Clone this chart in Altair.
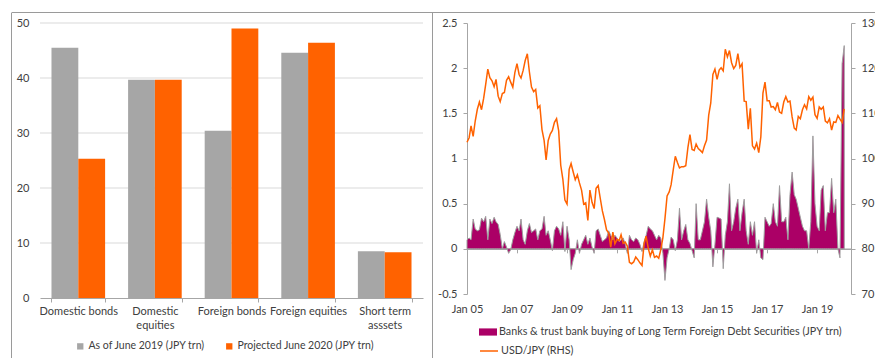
import altair as alt
import pandas as pd

# ---------------- data: left panel ----------------
categories = ["Domestic bonds", "Domestic equities", "Foreign bonds",
              "Foreign equities", "Short term asssets"]
as_of_june_2019 = [45.5, 39.7, 30.4, 44.6, 8.5]
projected_june_2020 = [25.3, 39.7, 49.0, 46.4, 8.3]
bar_series = ["As of June 2019 (JPY trn)", "Projected June 2020 (JPY trn)"]
left_ticks = [0, 10, 20, 30, 40, 50]

# ---------------- data: right panel (monthly, Jan 2005 - Feb 2020) ----------------
first_month = "2005-01-01"
bank_buying = [
    0.10, 0.12, 0.10, 0.33, 0.22, 0.20, 0.21, 0.34, 0.30, 0.36, 0.10, 0.33,
    0.28, 0.35, 0.30, 0.27, 0.16, 0.00, 0.08, 0.02, -0.05, -0.01, 0.10, 0.18,
    0.25, 0.20, 0.33, 0.10, 0.05, 0.20, 0.28, 0.18, 0.20, 0.22, 0.10, 0.20,
    0.22, 0.36, 0.15, 0.20, 0.10, -0.02, 0.20, 0.25, 0.22, 0.15, 0.30, -0.03,
    0.25, 0.10, -0.23, -0.12, -0.05, 0.10, -0.05, 0.05, 0.10, 0.15, 0.05, 0.12,
    0.02, -0.05, 0.20, 0.22, 0.15, 0.08, 0.10, 0.12, 0.20, 0.15, 0.10, 0.15,
    0.12, 0.08, 0.10, 0.12, 0.05, -0.05, 0.15, 0.10, 0.08, 0.12, 0.10, 0.05,
    -0.03, 0.08, 0.15, 0.25, 0.22, 0.20, 0.15, 0.10, 0.15, 0.12, -0.05, -0.35,
    -0.10, 0.00, 0.13, 0.10, -0.02, 0.10, 0.45, 0.10, 0.20, 0.27, 0.10, 0.06,
    -0.02, -0.10, 0.50, 0.10, 0.10, 0.20, 0.30, 0.55, 0.35, 0.20, -0.20, 0.05,
    0.35, 0.34, 0.33, -0.22, 0.15, 0.30, 0.72, 0.20, 0.30, 0.45, 0.55, 0.20,
    0.40, 0.55, 0.20, 0.05, 0.30, 0.15, 0.30, -0.05, 0.10, -0.10, -0.12, 0.35,
    0.30, 0.25, 0.28, 0.50, 0.30, 0.25, 0.70, 0.30, 0.30, 0.35, 0.10, 0.60,
    0.85, 0.60, 0.55, 0.45, 0.35, 0.25, 0.20, 0.20, 0.00, 0.30, 1.25, 0.50,
    0.25, 0.20, 0.65, 0.70, 0.20, 0.40, 0.40, 0.78, 0.40, 0.55, 0.00, -0.10,
    2.05, 2.25,
]
usd_jpy = [
    103.6, 104.6, 107.2, 104.9, 108.3, 110.9, 112.5, 110.8, 113.3, 116.4, 119.8, 117.9,
    117.2, 115.9, 117.5, 113.8, 112.6, 114.4, 114.6, 117.3, 118.1, 116.9, 115.8, 119.0,
    121.0, 118.6, 117.8, 119.5, 121.7, 123.2, 119.2, 115.8, 114.8, 115.3, 111.2, 111.7,
    106.4, 104.0, 99.7, 104.0, 105.4, 106.2, 108.0, 108.8, 106.1, 98.5, 95.4, 90.8,
    89.9, 97.6, 98.9, 97.0, 95.3, 96.4, 94.6, 93.0, 89.9, 90.2, 86.3, 93.0,
    90.3, 88.9, 93.4, 94.0, 91.2, 88.4, 86.5, 84.2, 83.5, 80.4, 83.7, 81.1,
    82.1, 81.8, 83.1, 81.2, 81.5, 80.6, 77.0, 76.7, 77.1, 78.2, 77.6, 76.9,
    76.3, 81.2, 82.8, 80.1, 78.4, 79.8, 78.1, 78.4, 77.9, 79.8, 82.5, 86.7,
    91.7, 92.6, 94.2, 97.5, 100.5, 99.1, 97.9, 98.2, 98.2, 98.4, 102.4, 105.3,
    102.0, 101.8, 103.2, 102.2, 101.8, 101.3, 102.8, 104.1, 109.6, 112.3, 118.6, 119.8,
    117.5, 119.6, 120.1, 119.4, 124.2, 122.5, 123.9, 121.2, 119.9, 120.6, 123.2, 120.2,
    121.0, 112.7, 112.6, 106.5, 111.1, 102.8, 102.1, 103.4, 101.3, 104.8, 114.5, 116.9,
    112.8, 112.8, 111.4, 111.5, 110.8, 112.4, 110.3, 110.0, 112.5, 113.7, 112.5, 112.7,
    109.2, 106.7, 106.3, 109.3, 108.8, 110.8, 111.9, 111.0, 113.7, 112.9, 113.6, 109.7,
    108.9, 111.4, 110.9, 111.4, 108.3, 107.9, 108.8, 106.3, 108.1, 108.0, 109.5, 108.7,
    108.0, 111.0,
]
lhs_ticks = [-0.5, 0, 0.5, 1, 1.5, 2, 2.5]
rhs_ticks = [70, 80, 90, 100, 110, 120, 130]
tick_years = [2005, 2007, 2009, 2011, 2013, 2015, 2017, 2019]
area_name = "Banks & trust bank buying of Long Term Foreign Debt Securities (JPY trn)"
line_name = "USD/JPY (RHS)"

# ---------------- styling ----------------
FONT = "Lato"
TEXT = "#404040"
AXIS_GRAY = "#A6A6A6"
GRID = "#D9D9D9"
FRAME = "#9A9A9A"
GREY_BAR = "#A6A6A6"
ORANGE = "#FF6200"
PURPLE = "#AB0066"
FS = 11

W, H = 811, 275          # full plot area (x 40..851, y 23..298)
LEFT_RANGE = [0, 383]    # left panel plot x-range
RIGHT_RANGE = [427, 811] # right panel plot x-range
RIGHT_Y_RANGE = [271, 0]

# ---------------- tables ----------------
bars_df = pd.DataFrame({
    "category": categories * 2,
    "series": [bar_series[0]] * len(categories) + [bar_series[1]] * len(categories),
    "value": as_of_june_2019 + projected_june_2020,
})
grid_df = pd.DataFrame({"v": left_ticks[1:]})
dates = pd.date_range(first_month, periods=len(bank_buying), freq="MS").strftime("%Y-%m-%d")
ts_df = pd.DataFrame({
    "date": dates,
    "banks": bank_buying,
    "usdjpy": usd_jpy,
    "s_area": area_name,
    "s_line": line_name,
})

# ---------------- left panel ----------------
label_expr = ("datum.label == 'Domestic equities' ? ['Domestic', 'equities'] : "
              "datum.label == 'Short term asssets' ? ['Short term', 'asssets'] : datum.label")

grid = alt.Chart(grid_df).mark_rule(color=GRID, strokeWidth=1).encode(
    y=alt.Y("v:Q"),
    x=alt.value(LEFT_RANGE[0]),
    x2=alt.value(LEFT_RANGE[1]),
)

bars = alt.Chart(bars_df).mark_bar().encode(
    x=alt.X("category:N", sort=categories,
            scale=alt.Scale(range=LEFT_RANGE, paddingInner=0.3, paddingOuter=0.15),
            axis=alt.Axis(title=None, orient="bottom", labelAngle=0, tickBand="extent",
                          domainColor=AXIS_GRAY, tickColor=AXIS_GRAY, tickSize=4,
                          labelPadding=3, labelExpr=label_expr, labelFont=FONT,
                          labelFontSize=FS, labelColor=TEXT, labelLineHeight=14)),
    xOffset=alt.XOffset("series:N", sort=bar_series, scale=alt.Scale(paddingInner=0)),
    y=alt.Y("value:Q", scale=alt.Scale(domain=[0, 50], nice=False),
            axis=alt.Axis(title=None, orient="left", values=left_ticks, grid=False,
                          ticks=False, domain=False, labelPadding=11, labelFont=FONT,
                          labelFontSize=FS, labelColor=TEXT)),
    color=alt.Color("series:N", sort=bar_series,
                    scale=alt.Scale(domain=bar_series, range=[GREY_BAR, ORANGE]),
                    legend=alt.Legend(title=None, orient="none", legendX=35, legendY=318,
                                      direction="horizontal", symbolType="square",
                                      symbolSize=40, symbolStrokeWidth=0, labelFont=FONT,
                                      labelFontSize=10.5, labelColor=TEXT, labelOffset=3,
                                      columnPadding=18, padding=0, labelLimit=0)),
)

left = alt.layer(grid, bars)

# ---------------- right panel ----------------
x_dom = [alt.DateTime(year=2005, month=1, date=1, utc=True),
         alt.DateTime(year=2020, month=5, date=10, utc=True)]
x_vals = [alt.DateTime(year=y, month=1, date=1, utc=True) for y in tick_years]

area = alt.Chart(ts_df).mark_area(stroke="#9E9E9E", strokeWidth=1, interpolate="linear").encode(
    x=alt.X("date:T", scale=alt.Scale(type="utc", domain=x_dom, range=RIGHT_RANGE, nice=False),
            axis=alt.Axis(title=None, orient="bottom", values=x_vals, format="%b %y",
                          domain=False, ticks=False, grid=False, labelPadding=5,
                          labelFlush=False, labelFont=FONT, labelFontSize=FS,
                          labelColor=TEXT, labelAngle=0)),
    y=alt.Y("banks:Q", scale=alt.Scale(domain=[-0.5, 2.5], range=RIGHT_Y_RANGE,
                                       nice=False, zero=False),
            axis=alt.Axis(title=None, orient="left", offset=-RIGHT_RANGE[0], values=lhs_ticks,
                          labelExpr="'' + datum.value", grid=False, domainColor=AXIS_GRAY,
                          tickColor=AXIS_GRAY, tickSize=4, labelPadding=6, labelFont=FONT,
                          labelFontSize=FS, labelColor=TEXT, labelFlush=False)),
    fill=alt.Fill("s_area:N", scale=alt.Scale(domain=[area_name], range=[PURPLE]),
                  legend=alt.Legend(title=None, orient="none", legendX=439, legendY=300,
                                    symbolType="M-1,-0.4L1,-0.4L1,0.4L-1,0.4Z",
                                    symbolSize=324, symbolStrokeWidth=0, labelFont=FONT,
                                    labelFontSize=10.75, labelColor=TEXT, labelOffset=2,
                                    padding=0, labelLimit=0)),
)

line = alt.Chart(ts_df).mark_line(strokeWidth=1.5, interpolate="linear").encode(
    x=alt.X("date:T", scale=alt.Scale(type="utc", domain=x_dom, range=RIGHT_RANGE, nice=False),
            axis=alt.Axis(title=None, orient="bottom", offset=-(H - 225.83), values=x_vals,
                          labels=False, grid=False, domainColor=AXIS_GRAY, domainWidth=1.5,
                          tickColor=AXIS_GRAY, tickSize=4)),
    y=alt.Y("usdjpy:Q", scale=alt.Scale(domain=[70, 130], range=RIGHT_Y_RANGE,
                                        nice=False, zero=False),
            axis=alt.Axis(title=None, orient="right", values=rhs_ticks, grid=False,
                          domainColor=AXIS_GRAY, tickColor=AXIS_GRAY, tickSize=4,
                          labelPadding=6, labelFont=FONT, labelFontSize=FS,
                          labelColor=TEXT, labelFlush=False)),
    stroke=alt.Stroke("s_line:N", scale=alt.Scale(domain=[line_name], range=[ORANGE]),
                      legend=alt.Legend(title=None, orient="none", legendX=439, legendY=318,
                                        symbolType="stroke", symbolSize=324,
                                        symbolStrokeWidth=1.5, labelFont=FONT,
                                        labelFontSize=10.75, labelColor=TEXT, labelOffset=2,
                                        padding=0, labelLimit=0)),
)

right = alt.layer(area, line).resolve_scale(x="independent", y="independent")

# ---------------- frames ----------------
frame_df = pd.DataFrame({"k": [0]})
top_border = alt.Chart(frame_df).mark_rule(color=FRAME, strokeWidth=1).encode(
    x=alt.value(-28), x2=alt.value(835), y=alt.value(-10.5))
left_border = alt.Chart(frame_df).mark_rule(color=FRAME, strokeWidth=1).encode(
    x=alt.value(-28.5), y=alt.value(-10.5), y2=alt.value(340))
divider = alt.Chart(frame_df).mark_rule(color=FRAME, strokeWidth=1).encode(
    x=alt.value(392.5), y=alt.value(-10.5), y2=alt.value(340))

chart = alt.layer(left, right, top_border, left_border, divider).resolve_scale(
    x="independent", y="independent"
).properties(
    width=W, height=H,
    padding={"left": 40, "top": 23, "right": 24, "bottom": 60},
    autosize=alt.AutoSizeParams(type="none"),
    background="white",
).configure_view(stroke=None)

chart.save("out.html", embed_options={"renderer": "svg", "actions": False})
